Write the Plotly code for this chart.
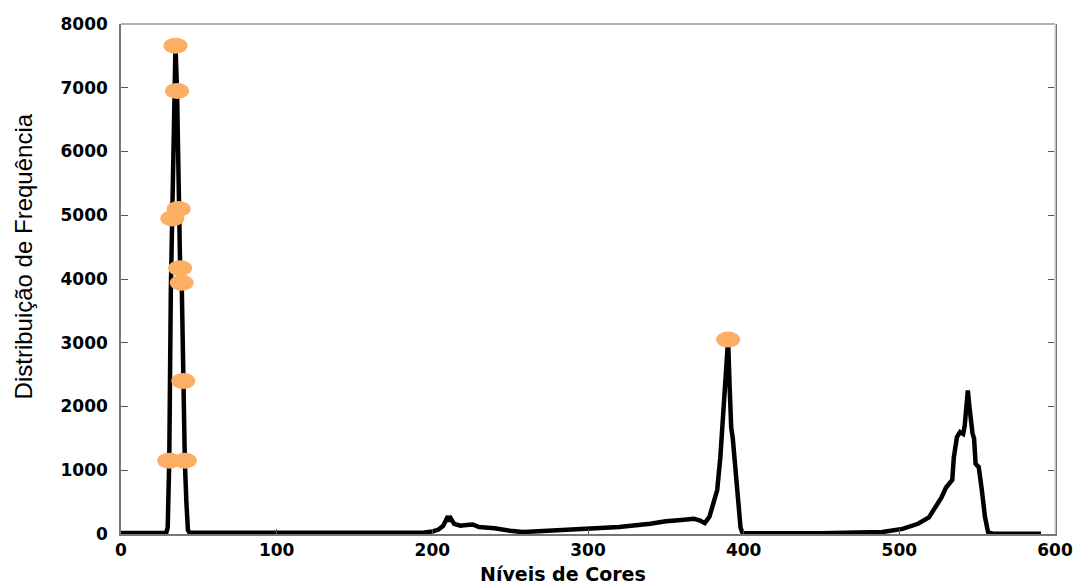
import plotly.graph_objects as go

# Histogram (colour level -> frequency)
levels = [0, 29, 30, 31, 32, 33, 34, 35, 36, 37, 38, 39, 40, 41, 42, 43, 44,
          100, 150, 195, 200, 204, 207, 209, 210, 211, 212, 214, 218, 222, 226, 230,
          240, 250, 258, 265, 280, 300, 320, 340, 350, 360, 368, 372, 375, 378,
          381, 383, 385, 387, 388, 389, 390, 391, 392, 393, 394, 395, 396, 397, 398, 399, 400,
          450, 470, 489, 502, 512, 519, 523, 527, 530, 532, 534, 535, 537, 539, 541,
          542, 543, 544, 545, 546, 547, 548, 549, 551, 552, 553, 555, 557, 560, 591]
freq = [15, 15, 100, 1150, 3800, 4950, 6900, 7660, 6950, 5100, 4170, 3940, 2400, 1150, 500, 60, 20,
        20, 20, 25, 40, 70, 130, 250, 280, 200, 240, 160, 130, 140, 150, 110,
        90, 50, 30, 40, 60, 90, 110, 160, 200, 220, 240, 210, 170, 270,
        500, 690, 1200, 1980, 2400, 2800, 3050, 2300, 1670, 1500, 1200, 900, 500, 300, 100, 30, 10,
        10, 20, 30, 80, 160, 260, 420, 570, 730, 800, 850, 1200, 1520, 1600, 1570,
        1700, 2000, 2250, 2000, 1700, 1580, 1500, 1100, 1050, 900, 690, 270, 30, 5, 5]

# Highlighted points (orange)
mark_x = [35, 36, 33, 37, 38, 39, 40, 31, 41, 390]
mark_y = [7660, 6950, 4950, 5100, 4170, 3940, 2400, 1150, 1150, 3050]

x_ticks = [0, 100, 200, 300, 400, 500, 600]
y_ticks = [0, 1000, 2000, 3000, 4000, 5000, 6000, 7000, 8000]

fig = go.Figure()
fig.add_trace(go.Scatter(x=levels, y=freq, mode="lines",
                         line=dict(color="black", width=4.5), hoverinfo="skip"))

for mx, my in zip(mark_x, mark_y):
    fig.add_shape(type="circle", xref="x", yref="y",
                  xsizemode="pixel", ysizemode="pixel",
                  xanchor=mx, yanchor=my, x0=-12, x1=12, y0=-8, y1=8,
                  fillcolor="#FCAE64", line=dict(width=0), layer="above")

# frame: light top/right
fig.add_shape(type="line", xref="paper", yref="paper", x0=0, x1=1, y0=1, y1=1,
              line=dict(color="#9a9a9a", width=1.5))
fig.add_shape(type="line", xref="paper", yref="paper", x0=1, x1=1, y0=0, y1=1,
              line=dict(color="#dddddd", width=1.5))

tickfont = dict(family="DejaVu Sans", size=17, color="black", weight="bold")
fig.update_xaxes(range=[0, 600], tickvals=x_ticks, ticks="inside", ticklen=5,
                 tickcolor="#555", showline=True, linecolor="#777", linewidth=1.5,
                 showgrid=False, zeroline=False, tickfont=tickfont,
                 ticklabelstandoff=0)
fig.update_yaxes(range=[0, 8000], tickvals=y_ticks, ticks="inside", ticklen=7,
                 tickcolor="#555", showline=True, linecolor="#777", linewidth=1.5,
                 showgrid=False, zeroline=False, tickfont=tickfont, mirror="ticks",
                 ticklabelstandoff=8)

fig.add_annotation(text="Distribuição de Frequência", xref="paper", yref="paper",
                   x=-0.104, y=0.544, xanchor="center", yanchor="middle", textangle=-90,
                   showarrow=False, font=dict(family="Liberation Sans", size=24, color="black"))
fig.add_annotation(text="Níveis de Cores", xref="paper", yref="paper",
                   x=0.473, y=-52 / 510, xanchor="center", yanchor="bottom", borderpad=0,
                   showarrow=False, font=dict(family="DejaVu Sans", size=19, color="black", weight="bold"))

fig.update_layout(width=1085, height=586, margin=dict(l=121, r=25, t=24, b=52),
                  plot_bgcolor="white", paper_bgcolor="white", showlegend=False)

fig.write_html("out.html")
